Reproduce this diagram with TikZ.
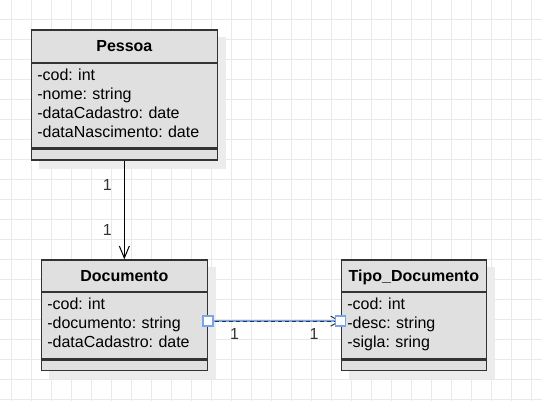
\documentclass[tikz,border=0pt]{standalone}
\usepackage{fontspec}
\setmainfont{Liberation Sans}
\frenchspacing
\usetikzlibrary{arrows.meta,positioning,backgrounds}
\definecolor{boxFill}{RGB}{224,224,224}
\definecolor{boxLine}{RGB}{51,51,51}
\definecolor{gridLine}{RGB}{233,233,233}
\definecolor{shadeGray}{RGB}{236,236,236}
\definecolor{selBlue}{RGB}{120,165,235}
\pgfdeclarelayer{gridlayer}
\pgfsetlayers{gridlayer,background,main}
\tikzset{
  ctitle/.style={draw=boxLine,fill=boxFill,line width=1.3pt,anchor=north west,inner sep=0pt,
                 font=\fontsize{16}{19}\selectfont\bfseries,text height=11.5pt,text depth=0pt},
  cattr/.style 2 args={draw=boxLine,fill=boxFill,line width=1.3pt,inner xsep=6pt,inner ysep=0pt,
                 font=\fontsize{16}{19}\selectfont,align=left,minimum width=#1,text width=#2,
                 text height=6pt},
  cfoot/.style={draw=boxLine,fill=boxFill,line width=1.3pt,inner sep=0pt},
  assoc/.style={-{Straight Barb[length=12pt,width=10pt]},line width=1pt},
  selected/.style={selBlue,line width=2pt},
  depend/.style={-{Straight Barb[length=9pt,width=10pt]},boxLine,line width=1pt,dash pattern=on 4pt off 3pt},
  handle/.style={draw=selBlue,fill=white,line width=1.3pt,minimum size=10pt,inner sep=0pt},
  mult/.style={font=\fontsize{16}{19}\selectfont,text=boxLine,inner sep=0pt},
  gridline/.style={gridLine,line width=1pt},
}
\begin{document}
\begin{tikzpicture}[x=1pt,y=-1pt]
  \useasboundingbox (0,0) rectangle (542,401);

  %% -- Grid -----------------------------------------------------------------
  \begin{pgfonlayer}{gridlayer}
    \fill[white] (0,0) rectangle (542,401);
    \foreach \gx in {11.5,31.5,...,531.5} \draw[gridline] (\gx,0) -- (\gx,401);
    \foreach \gy in {19.5,39.5,...,399.5} \draw[gridline] (0,\gy) -- (542,\gy);
  \end{pgfonlayer}

  %% -- Classes --------------------------------------------------------------
  \node[ctitle,minimum width=186pt,minimum height=32.4pt] (pessoaT) at (30.7,29.3) {Pessoa};
  \node[cattr={186pt}{174pt},minimum height=84pt,below=0pt of pessoaT] (pessoaA)
    {-cod: int\\-nome: string\\-dataCadastro: date\\-dataNascimento: date};
  \node[cfoot,minimum width=186pt,minimum height=11pt,below=0pt of pessoaA] (pessoaF) {};

  \node[ctitle,minimum width=166pt,minimum height=31.4pt] (docT) at (40.7,259.3) {Documento};
  \node[cattr={166pt}{154pt},minimum height=66pt,below=0pt of docT] (docA)
    {-cod: int\\-documento: string\\-dataCadastro: date};
  \node[cfoot,minimum width=166pt,minimum height=10.6pt,below=0pt of docA] (docF) {};

  \node[ctitle,minimum width=145pt,minimum height=31.4pt] (tipoT) at (340.7,259.3) {Tipo\_Documento};
  \node[cattr={145pt}{133pt},minimum height=66pt,below=0pt of tipoT] (tipoA)
    {-cod: int\\-desc: string\\\smash{-sigla: sring}};
  \node[cfoot,minimum width=145pt,minimum height=10.6pt,below=0pt of tipoA] (tipoF) {};

  %% -- Shadows --------------------------------------------------------------
  \begin{scope}[on background layer]
    \foreach \cls in {pessoa,doc,tipo}
      \fill[shadeGray] ([shift={(8pt,-8pt)}]\cls T.north west) rectangle ([shift={(8pt,-8pt)}]\cls F.south east);
  \end{scope}

  %% -- Connectors -----------------------------------------------------------
  \draw[assoc] (pessoaF.south) -- (docT.north)
    node[mult,pos=0.245,left=12pt] {1}
    node[mult,pos=0.706,left=12pt] {1};

  \coordinate (docOut) at ([yshift=4.5pt]docA.east);
  \coordinate (tipoIn) at ([yshift=4.5pt]tipoA.west);
  \draw[selected] (docOut) -- (tipoIn);
  \draw[depend] (docOut) -- (tipoIn)
    node[mult,pos=0.2,below=6.7pt] {1}
    node[mult,pos=0.8,below=6.7pt] {1};
  \node[handle] (hOut) at (docOut) {};
  \node[handle] (hIn) at (tipoIn) {};
\end{tikzpicture}
\end{document}
